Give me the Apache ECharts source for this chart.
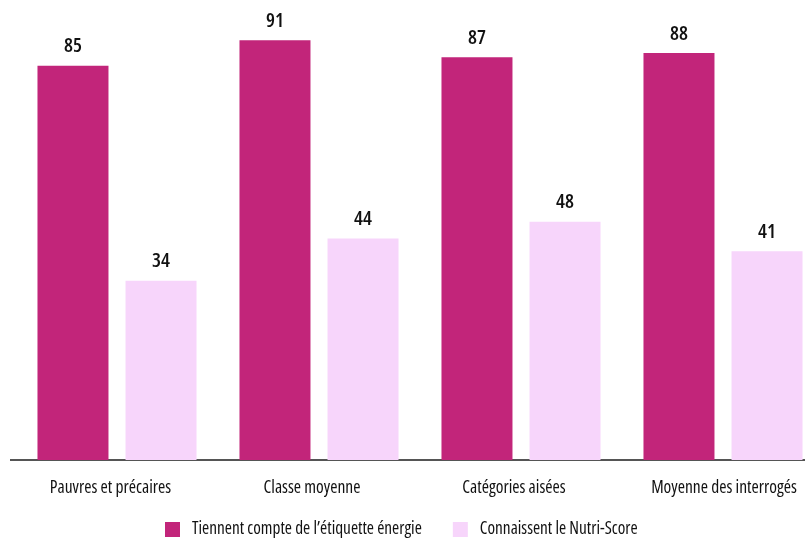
<!DOCTYPE html>
<html><head><meta charset="utf-8">
<script src="https://cdn.jsdelivr.net/npm/echarts@6/dist/echarts.min.js"></script>
<style>html,body{margin:0;padding:0;background:#fff}#c{width:805px;height:540px}</style>
</head><body><div id="c"></div>
<script>
const categories = ["Pauvres et précaires", "Classe moyenne", "Catégories aisées", "Moyenne des interrogés"];
const seriesNames = ["Tiennent compte de l\u2019étiquette énergie", "Connaissent le Nutri-Score"];
const etiquetteEnergie = [85, 91, 87, 88];
const nutriScore = [34, 44, 48, 41];
const colors = ["#C2257A", "#F7D5FB"];
const axisFloor = -8.539;

const FONT = "'Open Sans', sans-serif";
const chart = echarts.init(document.getElementById('c'), null, {renderer: 'canvas'});

function mainSeries(name, data, color, stack) {
  return {
    name: name, type: 'bar', stack: stack, data: data, barWidth: 71, barGap: '24%',
    itemStyle: {color: color},
    label: {show: true, position: 'top', distance: 9, color: '#111', fontFamily: FONT, fontStyle: 'condensed', fontSize: 20, fontWeight: 600},
    z: 2
  };
}
function baseSeries(name, data, color, stack) {
  return {
    name: name, type: 'bar', stack: stack, data: data.map(() => axisFloor), barWidth: 71, barGap: '24%',
    itemStyle: {color: color}, label: {show: false}, silent: true, z: 2
  };
}

const labelShift = [[0, 13, 0, 0], [0, 14, 0, 0], [0, 14, 0, 0], [0, 0, 0, 2]];

chart.setOption({
  animation: false,
  grid: {left: 16, width: 808, top: 2.4, bottom: 80, outerBoundsMode: 'none', containLabel: false},
  legend: {
    data: seriesNames, top: 521, left: 165, padding: 0, itemWidth: 15, itemHeight: 15, itemGap: 31,
    icon: 'rect',
    textStyle: {fontFamily: FONT, fontStyle: 'condensed', fontWeight: 500, fontSize: 17.3, lineHeight: 15, color: '#111', padding: [0, 0, 0, 7]}
  },
  xAxis: {
    type: 'category',
    data: categories.map((c, i) => ({value: c, textStyle: {padding: labelShift[i]}})),
    axisLine: {onZero: false, lineStyle: {color: '#555', width: 2}},
    axisTick: {show: false},
    axisLabel: {interval: 0, fontFamily: FONT, fontStyle: 'condensed', fontWeight: 500, fontSize: 17.5, color: '#111', margin: 19}
  },
  yAxis: {type: 'value', min: axisFloor, max: 100, show: false, splitLine: {show: false}},
  graphic: [{type: 'line', shape: {x1: 10, y1: 460, x2: 20, y2: 460}, style: {stroke: '#555', lineWidth: 2}, z: 1}],
  series: [
    mainSeries(seriesNames[0], etiquetteEnergie, colors[0], 'a'),
    baseSeries(seriesNames[0], etiquetteEnergie, colors[0], 'a'),
    mainSeries(seriesNames[1], nutriScore, colors[1], 'b'),
    baseSeries(seriesNames[1], nutriScore, colors[1], 'b')
  ]
});
</script></body></html>
